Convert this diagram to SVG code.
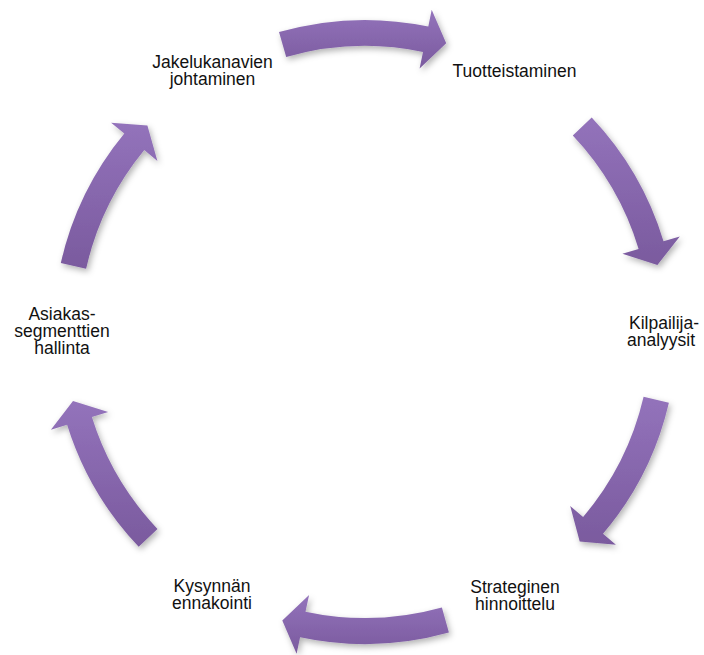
<svg xmlns="http://www.w3.org/2000/svg" width="704" height="655" viewBox="0 0 704 655">
<defs>
<linearGradient id="pg" x1="0" y1="0" x2="0" y2="1">
<stop offset="0" stop-color="#9373BB"/>
<stop offset="1" stop-color="#7A5A9E"/>
</linearGradient>
<filter id="sh" x="-20%" y="-20%" width="140%" height="140%">
<feDropShadow dx="2" dy="3" stdDeviation="3" flood-color="#000" flood-opacity="0.3"/>
</filter>
<style>
.arrow{fill:url(#pg);filter:url(#sh);}
.lbl{font-family:"Liberation Sans",Arial,sans-serif;font-size:17.5px;fill:#111;text-anchor:middle;}
</style>
</defs>
<rect width="704" height="655" fill="#fff"/>
<g id="connectors">
<path class="arrow" d="M279.0,32.1 A312,312 0 0 1 428.3,26.5 L431.7,9.8 L446.2,43.2 L419.6,68.6 L423.0,51.9 A286,286 0 0 0 286.2,57.1 Z"/>
<path class="arrow" d="M591.7,117.6 A312,312 0 0 1 663.5,241.3 L679.8,236.4 L657.4,265.0 L622.4,253.8 L638.6,248.9 A286,286 0 0 0 572.8,135.5 Z"/>
<path class="arrow" d="M668.9,402.7 A312,312 0 0 1 603.0,533.8 L615.9,544.8 L579.7,541.5 L570.2,506.0 L583.1,517.0 A286,286 0 0 0 643.6,396.8 Z"/>
<path class="arrow" d="M448.9,632.5 A312,312 0 0 1 300.1,637.2 L296.6,653.8 L282.3,620.4 L309.1,595.1 L305.5,611.7 A286,286 0 0 0 441.9,607.5 Z"/>
<path class="arrow" d="M138.7,546.8 A312,312 0 0 1 67.1,424.8 L50.9,429.8 L73.0,401.0 L108.2,412.0 L91.9,417.1 A286,286 0 0 0 157.5,528.9 Z"/>
<path class="arrow" d="M60.8,262.9 A312,312 0 0 1 124.3,133.5 L111.1,122.7 L147.4,125.5 L157.4,160.9 L144.3,150.1 A286,286 0 0 0 86.1,268.7 Z"/>
</g>
<g id="node-tuotteistaminen"><text class="lbl" x="514.5" y="77">Tuotteistaminen</text></g>
<g id="node-kilpailija"><text class="lbl" x="664" y="329">Kilpailija-</text><text class="lbl" x="661" y="346">analyysit</text></g>
<g id="node-strateginen"><text class="lbl" x="515" y="593">Strateginen</text><text class="lbl" x="515" y="610">hinnoittelu</text></g>
<g id="node-kysynnan"><text class="lbl" x="212" y="592">Kysynnän</text><text class="lbl" x="212" y="609">ennakointi</text></g>
<g id="node-asiakas"><text class="lbl" x="62" y="320">Asiakas-</text><text class="lbl" x="62" y="337">segmenttien</text><text class="lbl" x="62" y="354">hallinta</text></g>
<g id="node-jakelu"><text class="lbl" x="212.5" y="68">Jakelukanavien</text><text class="lbl" x="212.5" y="85">johtaminen</text></g>
</svg>
